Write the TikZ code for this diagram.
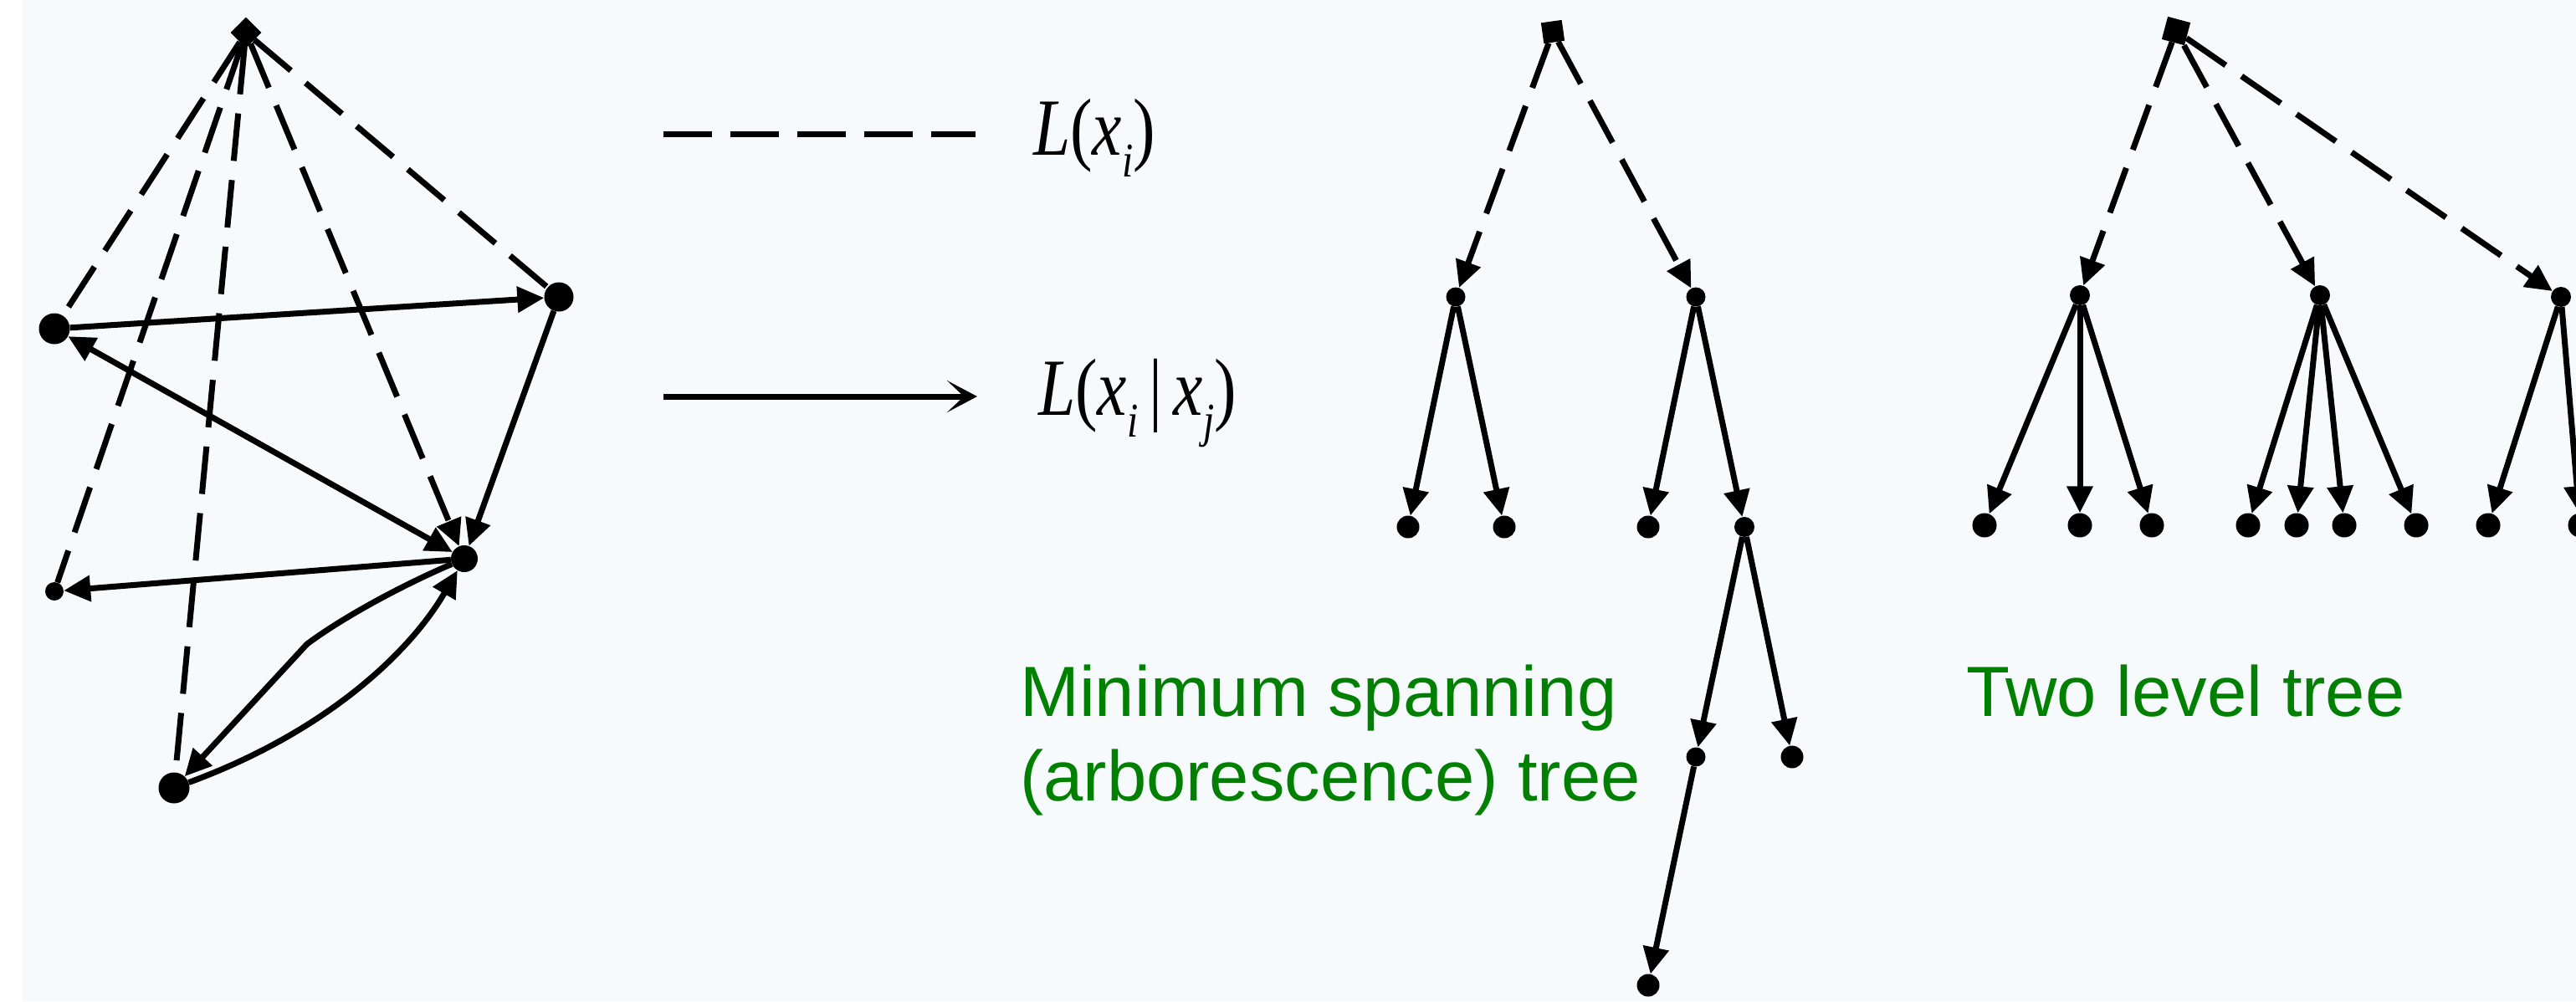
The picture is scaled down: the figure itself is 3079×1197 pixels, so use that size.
\documentclass[tikz,border=0pt]{standalone}
\usepackage{fontspec}
\usepackage{graphicx}
\setmainfont{Liberation Serif}
\newfontfamily\arialf{Liberation Sans}
\usetikzlibrary{arrows.meta}
\definecolor{bgc}{RGB}{246,250,252}
\definecolor{lblgreen}{RGB}{0,128,0}
\newcommand\subidx[1]{\raisebox{-26pt}{\fontsize{58}{58}\selectfont\textit{#1}}}
\begin{document}
\begin{tikzpicture}[x=1pt,y=-1pt,
  solidln/.style={line width=7pt},
  dashln/.style={line width=7pt, dash pattern=on 57pt off 23pt},
  headarrow/.style={-{Triangle[length=32pt,width=30pt]}},
  dotn/.style={circle, fill=black, inner sep=0pt, minimum size=#1},
  rootsq/.style={rectangle, fill=black, inner sep=0pt, minimum size=25pt},
  greentext/.style={font=\arialf\fontsize{85}{85}\selectfont, text=lblgreen, inner sep=0pt, anchor=base west},
  legtext/.style={font=\fontsize{97}{97}\selectfont, inner sep=0pt, anchor=base west}
]
\useasboundingbox (0,0) rectangle (3079,1197);
\fill[white] (0,0) rectangle (3079,1197);
\fill[bgc] (27,0) rectangle (3079,1197);

% ---------- left graph ----------
\node[rootsq, minimum size=26pt, rotate=45] (T) at (294,39) {};
\node[dotn=37pt] (A) at (65,393) {};
\node[dotn=35pt] (R) at (668,355) {};
\node[dotn=32pt] (M) at (555,668) {};
\node[dotn=22pt] (S) at (65,707) {};
\node[dotn=37pt] (B) at (208,942) {};
\coordinate (K) at (367,770);

\draw[dashln] (T) -- (A);
\draw[dashln] (T) -- (S);
\draw[dashln] (T) -- (B);
\draw[dashln] (T) -- (R);
\draw[dashln, headarrow] (T) -- (M);
\draw[solidln, headarrow] (A) -- (R);
\draw[solidln, {Triangle[length=32pt,width=30pt]}-{Triangle[length=32pt,width=30pt]}] (A) -- (M);
\draw[solidln, headarrow] (R) -- (M);
\draw[solidln, headarrow] (M) -- (S);
\draw[solidln, headarrow] (B) .. controls (390,875) and (490,780) .. (M);
\draw[solidln, headarrow] (M) .. controls (480,700) and (410,738) .. (K) -- (B);

% ---------- legend ----------
\coordinate (d0) at (793,160);
\coordinate (d1) at (1166,160);
\draw[line width=7pt, dash pattern=on 58pt off 22pt] (d0) -- (d1);
\coordinate (a0) at (793,474);
\coordinate (a1) at (1168,474);
\draw[line width=7pt, -{Stealth[length=36pt,width=38pt,inset=20pt]}] (a0) -- (a1);
\node[legtext] (lg1) at (1235,185) {\scalebox{0.82}[1]{\textit{L}(\textit{x}\subidx{i})}};
\node[legtext] (lg2) at (1241,496) {\scalebox{0.82}[1]{\textit{L}(\textit{x}\subidx{i}\,|\,\textit{x}\subidx{j})}};

% ---------- minimum spanning tree ----------
\node[rootsq, rotate=8] (m0) at (1856,38) {};
\node[dotn=23pt] (m1) at (1740,355) {};
\node[dotn=23pt] (m2) at (2027,355) {};
\node[dotn=27pt] (m11) at (1683,630) {};
\node[dotn=27pt] (m12) at (1798,630) {};
\node[dotn=27pt] (m21) at (1970,630) {};
\node[dotn=24pt] (m22) at (2085,630) {};
\node[dotn=23pt] (m221) at (2027,905) {};
\node[dotn=27pt] (m222) at (2142,905) {};
\node[dotn=27pt] (m2211) at (1970,1178) {};

\draw[dashln, headarrow] (m0) -- (m1);
\draw[dashln, headarrow] (m0) -- (m2);
\draw[solidln, headarrow] (m1) -- (m11);
\draw[solidln, headarrow] (m1) -- (m12);
\draw[solidln, headarrow] (m2) -- (m21);
\draw[solidln, headarrow] (m2) -- (m22);
\draw[solidln, headarrow] (m22) -- (m221);
\draw[solidln, headarrow] (m22) -- (m222);
\draw[solidln, headarrow] (m221) -- (m2211);

\node[greentext] (t1) at (1219,856) {Minimum spanning};
\node[greentext] (t2) at (1219,957) {(arborescence) tree};

% ---------- two level tree ----------
\node[rootsq, minimum size=28pt, rotate=-15] (r0) at (2601,37) {};
\node[dotn=24pt] (q1) at (2486,353) {};
\node[dotn=24pt] (q2) at (2773,353) {};
\node[dotn=24pt] (q3) at (3061,355) {};
\node[dotn=29pt] (l1) at (2372,628) {};
\node[dotn=29pt] (l2) at (2486,628) {};
\node[dotn=29pt] (l3) at (2572,628) {};
\node[dotn=29pt] (l4) at (2687,628) {};
\node[dotn=29pt] (l5) at (2745,628) {};
\node[dotn=29pt] (l6) at (2802,628) {};
\node[dotn=29pt] (l7) at (2888,628) {};
\node[dotn=29pt] (l8) at (2974,628) {};
\node[dotn=29pt] (l9) at (3084,628) {};

\draw[dashln, headarrow] (r0) -- (q1);
\draw[dashln, headarrow] (r0) -- (q2);
\draw[dashln, headarrow] (r0) -- (q3);
\draw[solidln, headarrow] (q1) -- (l1);
\draw[solidln, headarrow] (q1) -- (l2);
\draw[solidln, headarrow] (q1) -- (l3);
\draw[solidln, headarrow] (q2) -- (l4);
\draw[solidln, headarrow] (q2) -- (l5);
\draw[solidln, headarrow] (q2) -- (l6);
\draw[solidln, headarrow] (q2) -- (l7);
\draw[solidln, headarrow] (q3) -- (l8);
\draw[solidln, headarrow] (q3) -- (l9);

\node[greentext] (t3) at (2350,856) {Two level tree};
\end{tikzpicture}
\end{document}
